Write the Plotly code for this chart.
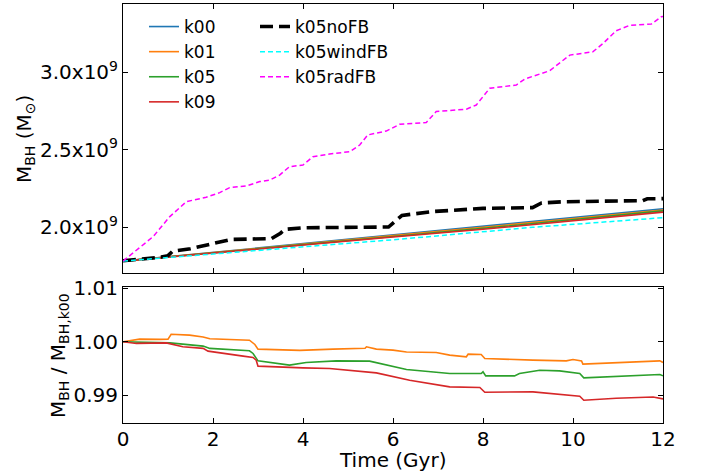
import plotly.graph_objects as go

# ---------------- data ----------------
# upper panel: black hole mass (Msun)
t_k = [0, 2, 4, 6, 8, 10, 12]
k00 = [1.780e9, 1.836e9, 1.892e9, 1.948e9, 2.004e9, 2.060e9, 2.117e9]
k01 = [1.780e9, 1.836e9, 1.889e9, 1.945e9, 1.998e9, 2.053e9, 2.109e9]
k05 = [1.780e9, 1.834e9, 1.885e9, 1.939e9, 1.991e9, 2.047e9, 2.104e9]
k09 = [1.780e9, 1.833e9, 1.883e9, 1.935e9, 1.985e9, 2.039e9, 2.096e9]

t_nofb = [0, 0.5, 0.85, 1.0, 1.1, 1.5, 2.2, 2.4, 3.3, 3.5, 3.6, 4.0, 5.9, 6.05, 6.2, 6.9, 8.0, 9.1, 9.3, 9.8, 11.55, 11.65, 12.0]
k05noFB = [1.782e9, 1.795e9, 1.806e9, 1.815e9, 1.843e9, 1.860e9, 1.905e9, 1.920e9, 1.925e9, 1.960e9, 1.985e9,
           1.995e9, 2.000e9, 2.040e9, 2.075e9, 2.100e9, 2.120e9, 2.125e9, 2.155e9, 2.163e9, 2.170e9, 2.182e9, 2.183e9]

t_wind = [0, 2, 4.37, 6.15, 9.1, 12]
k05windFB = [1.780e9, 1.826e9, 1.884e9, 1.921e9, 1.998e9, 2.060e9]

t_rad = [0, 0.3, 0.67, 1.04, 1.41, 1.85, 2.15, 2.37, 2.74, 3.04, 3.26, 3.48, 3.7, 4.0, 4.22, 4.59, 5.04,
         5.26, 5.44, 5.85, 6.15, 6.74, 6.96, 7.63, 7.85, 8.15, 8.74, 8.93, 9.19, 9.48, 9.93, 10.44, 10.67,
         10.96, 11.26, 11.74, 11.96, 12.0]
k05radFB = [1.780e9, 1.852e9, 1.938e9, 2.067e9, 2.164e9, 2.192e9, 2.222e9, 2.254e9, 2.265e9, 2.293e9, 2.303e9,
            2.335e9, 2.389e9, 2.400e9, 2.453e9, 2.471e9, 2.486e9, 2.529e9, 2.594e9, 2.619e9, 2.663e9, 2.674e9,
            2.745e9, 2.760e9, 2.787e9, 2.895e9, 2.916e9, 2.955e9, 2.981e9, 3.008e9, 3.109e9, 3.130e9, 3.185e9,
            3.266e9, 3.301e9, 3.309e9, 3.356e9, 3.358e9]

# lower panel: ratio to k00
t_r01 = [0, 0.37, 0.81, 1.0, 1.07, 1.48, 1.78, 1.93, 2.81, 2.93, 3.0, 3.93, 4.67, 5.38, 5.41, 5.63, 6.0, 6.3,
         6.96, 7.26, 7.63, 7.67, 7.96, 8.04, 9.11, 9.85, 10.0, 10.19, 10.22, 11.93, 12.0]
r01 = [1.0000, 1.0005, 1.00045, 1.0005, 1.0014, 1.00125, 1.0009, 1.00056, 1.0003, 0.9995, 0.99864, 0.9984,
       0.99864, 0.9988, 0.99907, 0.99864, 0.99845, 0.9981, 0.9980, 0.99751, 0.9972, 0.9977, 0.99764, 0.9969,
       0.99658, 0.99645, 0.9967, 0.99645, 0.99583, 0.99645, 0.99615]

t_r05 = [0, 0.44, 1.04, 1.78, 1.93, 2.81, 2.89, 3.0, 3.41, 3.7, 4.07, 4.74, 5.48, 6.0, 6.3, 7.26, 7.96, 8.0,
         8.06, 8.7, 8.81, 9.26, 9.7, 10.15, 10.24, 11.93, 12.0]
r05 = [1.0000, 0.99995, 0.9998, 0.9992, 0.99877, 0.99832, 0.99783, 0.99645, 0.99596, 0.99565, 0.99615, 0.99645,
       0.9964, 0.99546, 0.99485, 0.99409, 0.99409, 0.9944, 0.99365, 0.99365, 0.99409, 0.99471, 0.99458,
       0.99409, 0.99327, 0.99391, 0.99365]

t_r09 = [0, 0.3, 0.96, 1.33, 1.78, 1.89, 2.67, 2.89, 2.96, 3.0, 4.0, 4.59, 5.63, 6.0, 6.37, 7.26, 7.93, 8.04,
         9.11, 10.15, 10.24, 10.96, 11.78, 12.0]
r09 = [1.0000, 0.9997, 0.9998, 0.99907, 0.99877, 0.99826, 0.99733, 0.99708, 0.99658, 0.99546, 0.99514, 0.99503,
       0.9942, 0.99359, 0.99284, 0.99159, 0.99148, 0.9906, 0.99066, 0.98985, 0.9891, 0.98948, 0.98972, 0.98935]

x_ticks = [0, 2, 4, 6, 8, 10, 12]
top_ticks = [2.0e9, 2.5e9, 3.0e9]
top_ticktext = ["2.0x10<sup>9</sup>", "2.5x10<sup>9</sup>", "3.0x10<sup>9</sup>"]
bot_ticks = [0.99, 1.00, 1.01]
bot_ticktext = ["0.99", "1.00", "1.01"]

# ---------------- figure ----------------
C00, C01, C05, C09 = "#1f77b4", "#ff7f0e", "#2ca02c", "#d62728"
FONT = "DejaVu Sans"

fig = go.Figure()

for name, y, c in [("k00", k00, C00), ("k01", k01, C01), ("k05", k05, C05), ("k09", k09, C09)]:
    fig.add_trace(go.Scatter(x=t_k, y=y, name=name, mode="lines", line=dict(color=c, width=1.6),
                             xaxis="x", yaxis="y", legend="legend"))

fig.add_trace(go.Scatter(x=t_nofb, y=k05noFB, name="k05noFB", mode="lines",
                         line=dict(color="black", width=3.6, dash="13px,6px"), xaxis="x", yaxis="y",
                         legend="legend2"))
fig.add_trace(go.Scatter(x=t_wind, y=k05windFB, name="k05windFB", mode="lines",
                         line=dict(color="cyan", width=1.5, dash="5px,3px"), xaxis="x", yaxis="y",
                         legend="legend2"))
fig.add_trace(go.Scatter(x=t_rad, y=k05radFB, name="k05radFB", mode="lines",
                         line=dict(color="magenta", width=1.5, dash="5px,3px"), xaxis="x", yaxis="y",
                         legend="legend2"))

for name, tt, y, c in [("k01", t_r01, r01, C01), ("k05", t_r05, r05, C05), ("k09", t_r09, r09, C09)]:
    fig.add_trace(go.Scatter(x=tt, y=y, name=name, mode="lines", line=dict(color=c, width=1.6),
                             xaxis="x2", yaxis="y2", showlegend=False))

axis_common = dict(showline=True, linecolor="black", linewidth=1, mirror="ticks", ticks="inside",
                   ticklen=5, tickwidth=1, tickcolor="black", showgrid=False, zeroline=False,
                   automargin=False, tickfont=dict(family=FONT, size=20, color="black"))

W, H = 701, 474
L, R, T, B = 123, 38, 4, 51
pw = W - L - R
ph = H - T - B
top_lo = (H - B - 273) / ph
bot_hi = (H - B - 287) / ph

fig.update_layout(
    width=W, height=H,
    margin=dict(l=L, r=R, t=T, b=B, autoexpand=False),
    paper_bgcolor="white", plot_bgcolor="white",
    font=dict(family=FONT, color="black"),
    xaxis=dict(domain=[0, 1], range=[0, 12], tickvals=x_ticks, showticklabels=False, anchor="y",
               **axis_common),
    yaxis=dict(domain=[top_lo, 1], range=[1.7032e9, 3.4387e9], tickvals=top_ticks, ticktext=top_ticktext,
               anchor="x", **axis_common),
    xaxis2=dict(domain=[0, 1], range=[0, 12], tickvals=x_ticks, anchor="y2", ticklabelstandoff=-2,
                **axis_common),
    yaxis2=dict(domain=[0, bot_hi], range=[0.98486, 1.01022], tickvals=bot_ticks, ticktext=bot_ticktext,
                anchor="x2", **axis_common),
    legend=dict(x=(144 - L) / pw, y=1 - (9 - T) / ph, xanchor="left", yanchor="top",
                bgcolor="rgba(0,0,0,0)", font=dict(family=FONT, size=17), tracegroupgap=0),
    legend2=dict(x=(255 - L) / pw, y=1 - (9 - T) / ph, xanchor="left", yanchor="top",
                 bgcolor="rgba(0,0,0,0)", font=dict(family=FONT, size=17), tracegroupgap=0),
    showlegend=True,
)

fig.add_annotation(text="M<sub>BH</sub> (M<sub>⊙</sub>)", textangle=-90, xref="paper", yref="paper",
                   x=(25 - L) / pw, y=(H - B - 139) / ph, xanchor="center", yanchor="middle",
                   showarrow=False, font=dict(family=FONT, size=20, color="black"))
fig.add_annotation(text="M<sub>BH</sub> / M<sub>BH,k00</sub>", textangle=-90, xref="paper", yref="paper",
                   x=(59 - L) / pw, y=(H - B - 356) / ph, xanchor="center", yanchor="middle",
                   showarrow=False, font=dict(family=FONT, size=20, color="black"))
fig.add_annotation(text="Time (Gyr)", xref="paper", yref="paper",
                   x=(392 - L) / pw, y=(H - B - 460) / ph, xanchor="center", yanchor="middle",
                   showarrow=False, font=dict(family=FONT, size=20, color="black"))

fig.write_html("out.html", config={"displayModeBar": False},
               post_script="document.body.style.margin='0px';")
